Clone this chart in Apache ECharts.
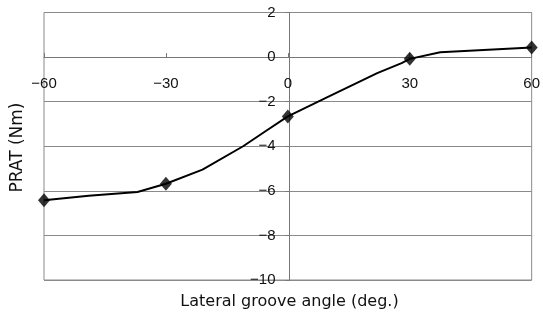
<!DOCTYPE html>
<html>
<head>
<meta charset="utf-8">
<script src="https://cdn.jsdelivr.net/npm/echarts@6/dist/echarts.min.js"></script>
<style>html,body{margin:0;padding:0;background:#fff}#c{width:543px;height:324px}</style>
</head>
<body>
<div id="c"></div>
<script>
// Marked measurement points
var markerAngles = [-60, -30, 0, 30, 60];
var markerPRAT = [-6.42, -5.68, -2.66, -0.08, 0.43];
// Curve through the points (including intermediate vertices of the drawn line)
var curveAngles = [-60, -49, -37, -30, -21, -11, -5.6, 0, 10, 22, 28, 30, 37.5, 60];
var curvePRAT = [-6.42, -6.22, -6.05, -5.68, -5.05, -4.0, -3.34, -2.66, -1.77, -0.72, -0.27, -0.08, 0.22, 0.43];
var xTicks = { min: -60, max: 60, interval: 30 };
var yTicks = { min: -10, max: 2, interval: 2 };

function pairs(xs, ys) { return xs.map(function (x, i) { return [x, ys[i]]; }); }
function fmt(v) { return String(v).replace('-', '\u2212'); }

var G = { left: 44, right: 8, top: 12.5, bottom: 44 };
var W = 543, H = 324;
var plotW = W - G.left - G.right, plotH = H - G.top - G.bottom;
// offsets that move the axes to cross at zero (computed from the axis ranges)
var xAxisOffset = -plotH * (0 - yTicks.min) / (yTicks.max - yTicks.min);
var yAxisOffset = -plotW * (0 - xTicks.min) / (xTicks.max - xTicks.min);

var chart = echarts.init(document.getElementById('c'), null, { renderer: 'canvas' });
chart.setOption({
  animation: false,
  backgroundColor: '#ffffff',
  grid: { left: G.left, right: G.right, top: G.top, bottom: G.bottom, show: true, borderColor: '#8a8a8a', borderWidth: 1, containLabel: false },
  xAxis: {
    type: 'value', min: xTicks.min, max: xTicks.max, interval: xTicks.interval,
    position: 'bottom', offset: xAxisOffset,
    axisLine: { onZero: false, lineStyle: { color: '#777', width: 1 } },
    axisTick: { show: true, inside: true, length: 4, lineStyle: { color: '#777' } },
    axisLabel: { margin: 19, color: '#111', fontSize: 15, fontFamily: 'Liberation Sans, Arial, sans-serif', formatter: fmt, showMinLabel: true, showMaxLabel: true },
    splitLine: { show: false }
  },
  yAxis: {
    type: 'value', min: yTicks.min, max: yTicks.max, interval: yTicks.interval,
    position: 'left', offset: yAxisOffset,
    axisLine: { show: true, onZero: false, lineStyle: { color: '#777', width: 1 } },
    axisTick: { show: true, length: 4, lineStyle: { color: '#777' } },
    axisLabel: { margin: 14, color: '#111', fontSize: 15, fontFamily: 'Liberation Sans, Arial, sans-serif', formatter: fmt },
    splitLine: { show: true, lineStyle: { color: '#8a8a8a', width: 1 } }
  },
  graphic: [
    { type: 'text', x: G.left + plotW / 2, y: 302, style: { text: 'Lateral groove angle (deg.)', font: '16px "DejaVu Sans", sans-serif', fill: '#111', align: 'center', verticalAlign: 'middle' } },
    { type: 'text', x: 18, y: 147.5, rotation: Math.PI / 2, style: { text: 'PRAT (Nm)', font: '17px "DejaVu Sans", sans-serif', fill: '#111', align: 'center', verticalAlign: 'middle' } }
  ],
  series: [
    { type: 'line', data: pairs(curveAngles, curvePRAT), symbol: 'none', smooth: false, lineStyle: { color: '#000', width: 2 }, z: 3 },
    { type: 'scatter', data: pairs(markerAngles, markerPRAT), symbol: 'diamond', symbolSize: [12, 14], itemStyle: { color: '#000' }, z: 4 }
  ]
});
</script>
</body>
</html>
